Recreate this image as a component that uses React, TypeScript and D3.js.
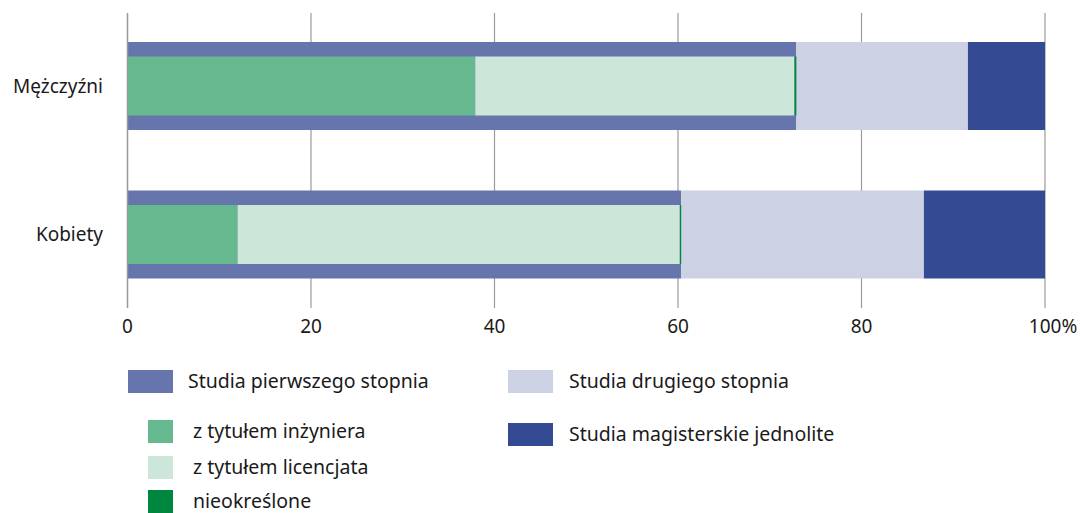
import React from "react";
import * as d3 from "d3";

const categories = ["Mężczyźni", "Kobiety"];
const inzynier = [37.9, 12.0];
const licencjat = [34.8, 48.2];
const nieokreslone = [0.2, 0.15];
const drugiego = [18.7, 26.45];
const magisterskie = [8.4, 13.2];
const xTicks = [0, 20, 40, 60, 80, 100];

const C = {
  first: "#6676ac",
  inz: "#66b98e",
  lic: "#cce6da",
  nieokr: "#00873f",
  second: "#ccd1e4",
  mag: "#344a93",
  grid: "#9a9a9a",
  text: "#1a1a1a",
};

const FONT = "'Noto Sans', 'Open Sans', sans-serif";

export default function App() {
  const W = 1080, H = 513;
  const x = d3.scaleLinear().domain([0, 100]).range([127.5, 1045]);
  const outerH = 88;
  const innerH = 59;

  const rows = categories.map((c, i) => {
    const first = inzynier[i] + licencjat[i] + nieokreslone[i];
    return {
      c,
      first,
      segs: [
        { v0: first, v1: first + drugiego[i], color: C.second },
        { v0: first + drugiego[i], v1: first + drugiego[i] + magisterskie[i], color: C.mag },
      ],
      inner: [
        { v0: 0, v1: inzynier[i], color: C.inz },
        { v0: inzynier[i], v1: inzynier[i] + licencjat[i], color: C.lic },
        { v0: inzynier[i] + licencjat[i], v1: first, color: C.nieokr },
      ],
    };
  });
  const centers = [86, 234.5];

  const legendLeft = [
    { label: "Studia pierwszego stopnia", color: C.first, rx: 128, rw: 45, ry: 370, tx: 188, ty: 388.3 },
    { label: "z tytułem inżyniera", color: C.inz, rx: 148, rw: 25, ry: 420, tx: 193, ty: 438.3 },
    { label: "z tytułem licencjata", color: C.lic, rx: 148, rw: 25, ry: 456, tx: 193, ty: 474.3 },
    { label: "nieokreślone", color: C.nieokr, rx: 148, rw: 25, ry: 490, tx: 193, ty: 507.5 },
  ];
  const legendRight = [
    { label: "Studia drugiego stopnia", color: C.second, rx: 508, rw: 45, ry: 370, tx: 569, ty: 388.3 },
    { label: "Studia magisterskie jednolite", color: C.mag, rx: 508, rw: 45, ry: 423, tx: 569, ty: 441.3 },
  ];

  return (
    <svg width={W} height={H} style={{ position: "absolute", left: 0, top: 0, fontFamily: FONT }}>
      <rect width={W} height={H} fill="#fff" />
      {xTicks.map((t) => (
        <line key={t} x1={x(t)} x2={x(t)} y1={13} y2={308} stroke={C.grid} strokeWidth={1.2} />
      ))}
      {rows.map((r, i) => {
        const cy = centers[i];
        return (
          <g key={r.c}>
            <rect x={x(0)} width={x(r.first) - x(0)} y={cy - outerH / 2} height={outerH} fill={C.first} />
            {r.segs.map((s, j) => (
              <rect key={j} x={x(s.v0)} width={x(s.v1) - x(s.v0)} y={cy - outerH / 2} height={outerH} fill={s.color} />
            ))}
            {r.inner.map((s, j) => (
              <rect key={j} x={x(s.v0)} width={Math.max(1.2, x(s.v1) - x(s.v0))} y={cy - innerH / 2} height={innerH} fill={s.color} />
            ))}
            <text x={103} y={cy} dy="0.35em" textAnchor="end" fontSize={19} fill={C.text}>{r.c}</text>
          </g>
        );
      })}
      <line x1={x(0)} x2={x(0)} y1={13} y2={308} stroke={C.grid} strokeWidth={1.4} />
      {xTicks.map((t) => (
        <text key={t} x={t === 100 ? x(t) + 8 : x(t)} y={333} textAnchor="middle" fontSize={19} fill={C.text}>
          {t === 100 ? "100%" : String(t)}
        </text>
      ))}
      {[...legendLeft, ...legendRight].map((l) => (
        <g key={l.label}>
          <rect x={l.rx} y={l.ry} width={l.rw} height={23} fill={l.color} />
          <text x={l.tx} y={l.ty} fontSize={19.5} fill={C.text}>{l.label}</text>
        </g>
      ))}
    </svg>
  );
}
